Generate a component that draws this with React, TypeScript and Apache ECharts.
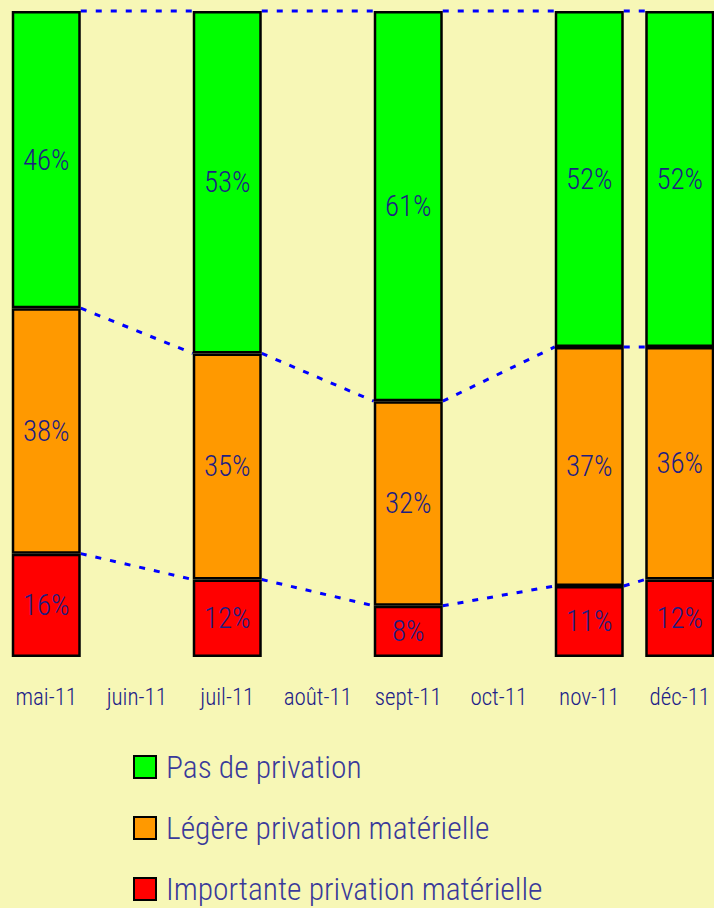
import React, { useEffect, useRef } from "react";
import * as echarts from "echarts";

const categories = ["mai-11", "juin-11", "juil-11", "août-11", "sept-11", "oct-11", "nov-11", "déc-11"];
const seriesNames = ["Pas de privation", "Légère privation matérielle", "Importante privation matérielle"];
const pasDePrivation: (number | null)[] = [46, null, 53, null, 61, null, 52, 52];
const legerePrivation: (number | null)[] = [38, null, 35, null, 32, null, 37, 36];
const importantePrivation: (number | null)[] = [16, null, 12, null, 8, null, 11, 12];

const FONT = "'Roboto Condensed', 'Liberation Sans Narrow', 'DejaVu Sans Condensed', sans-serif";
const BAR_W = 69;

export default function App() {
  const ref = useRef<HTMLDivElement>(null);
  useEffect(() => {
    if (!ref.current) return;
    const chart = echarts.init(ref.current, null, { renderer: "svg" });

    const totals = categories.map((_, i) =>
      (importantePrivation[i] ?? 0) + (legerePrivation[i] ?? 0) + (pasDePrivation[i] ?? 0)
    );
    const norm = (arr: (number | null)[]) =>
      arr.map((v, i) => (v == null ? null : { value: (v / totals[i]) * 100, raw: v }));

    const red = norm(importantePrivation);
    const orange = norm(legerePrivation);
    const green = norm(pasDePrivation);

    const present = categories.map((_, i) => i).filter((i) => totals[i] > 0);
    const connectors: number[][] = [];
    for (let k = 0; k < present.length - 1; k++) {
      const a = present[k], b = present[k + 1];
      const bounds = (i: number) => {
        const r = (red[i] as any).value;
        const o = (orange[i] as any).value;
        return [r, r + o, 100];
      };
      const ba = bounds(a), bb = bounds(b);
      for (let j = 0; j < 3; j++) connectors.push([a, b, ba[j], bb[j]]);
    }

    const labelCfg = {
      show: true,
      position: "inside",
      formatter: (p: any) => (p.data && p.data.raw != null ? p.data.raw + "%" : ""),
      color: "#1E1E82",
      fontSize: 29,
      fontFamily: FONT,
      fontWeight: 300,
    };
    const mkBar = (name: string, data: any[], color: string) => ({
      name,
      type: "bar",
      stack: "total",
      barWidth: BAR_W,
      data,
      itemStyle: { color, borderColor: "#000000", borderWidth: 2.5 },
      label: labelCfg,
      z: 3,
    });

    chart.setOption({
      animation: false,
      backgroundColor: "#F7F7B6",
      grid: { left: 1, right: 0, top: 11, bottom: 251, containLabel: false },
      xAxis: {
        type: "category",
        data: categories,
        axisLine: { show: false },
        axisTick: { show: false },
        axisLabel: { color: "#202088", fontSize: 23, fontFamily: FONT, fontWeight: 300, margin: 29, interval: 0 },
      },
      yAxis: {
        type: "value",
        min: 0,
        max: 100,
        show: false,
        splitLine: { show: false },
      },
      legend: {
        orient: "vertical",
        left: 128,
        top: 746,
        height: 162,
        itemWidth: 22,
        itemHeight: 22,
        itemGap: 29,
        icon: "rect",
        data: seriesNames,
        textStyle: { color: "#3A3A9A", fontSize: 31.5, fontFamily: FONT, fontWeight: 300, padding: [0, 0, 0, 5] },
      },
      series: [
        {
          type: "custom",
          name: "connectors",
          clip: false,
          z: 2,
          encode: { x: [0, 1], y: [2, 3] },
          data: connectors,
          renderItem: (params: any, api: any) => {
            const i0 = api.value(0), i1 = api.value(1);
            const y0 = api.value(2), y1 = api.value(3);
            const p0 = api.coord([i0, y0]);
            const p1 = api.coord([i1, y1]);
            return {
              type: "line",
              shape: { x1: p0[0] + BAR_W / 2, y1: p0[1], x2: p1[0] - BAR_W / 2, y2: p1[1] },
              style: { stroke: "#0000FF", lineWidth: 3, lineDash: [6, 9] },
            };
          },
        },
        mkBar(seriesNames[2], red, "#FF0000"),
        mkBar(seriesNames[1], orange, "#FF9900"),
        mkBar(seriesNames[0], green, "#00FF00"),
      ],
    });
    return () => chart.dispose();
  }, []);
  return (
    <div style={{ position: "absolute", left: 0, top: 0, width: 714, height: 908, overflow: "hidden" }}>
      <div ref={ref} style={{ width: 725, height: 908 }} />
    </div>
  );
}
